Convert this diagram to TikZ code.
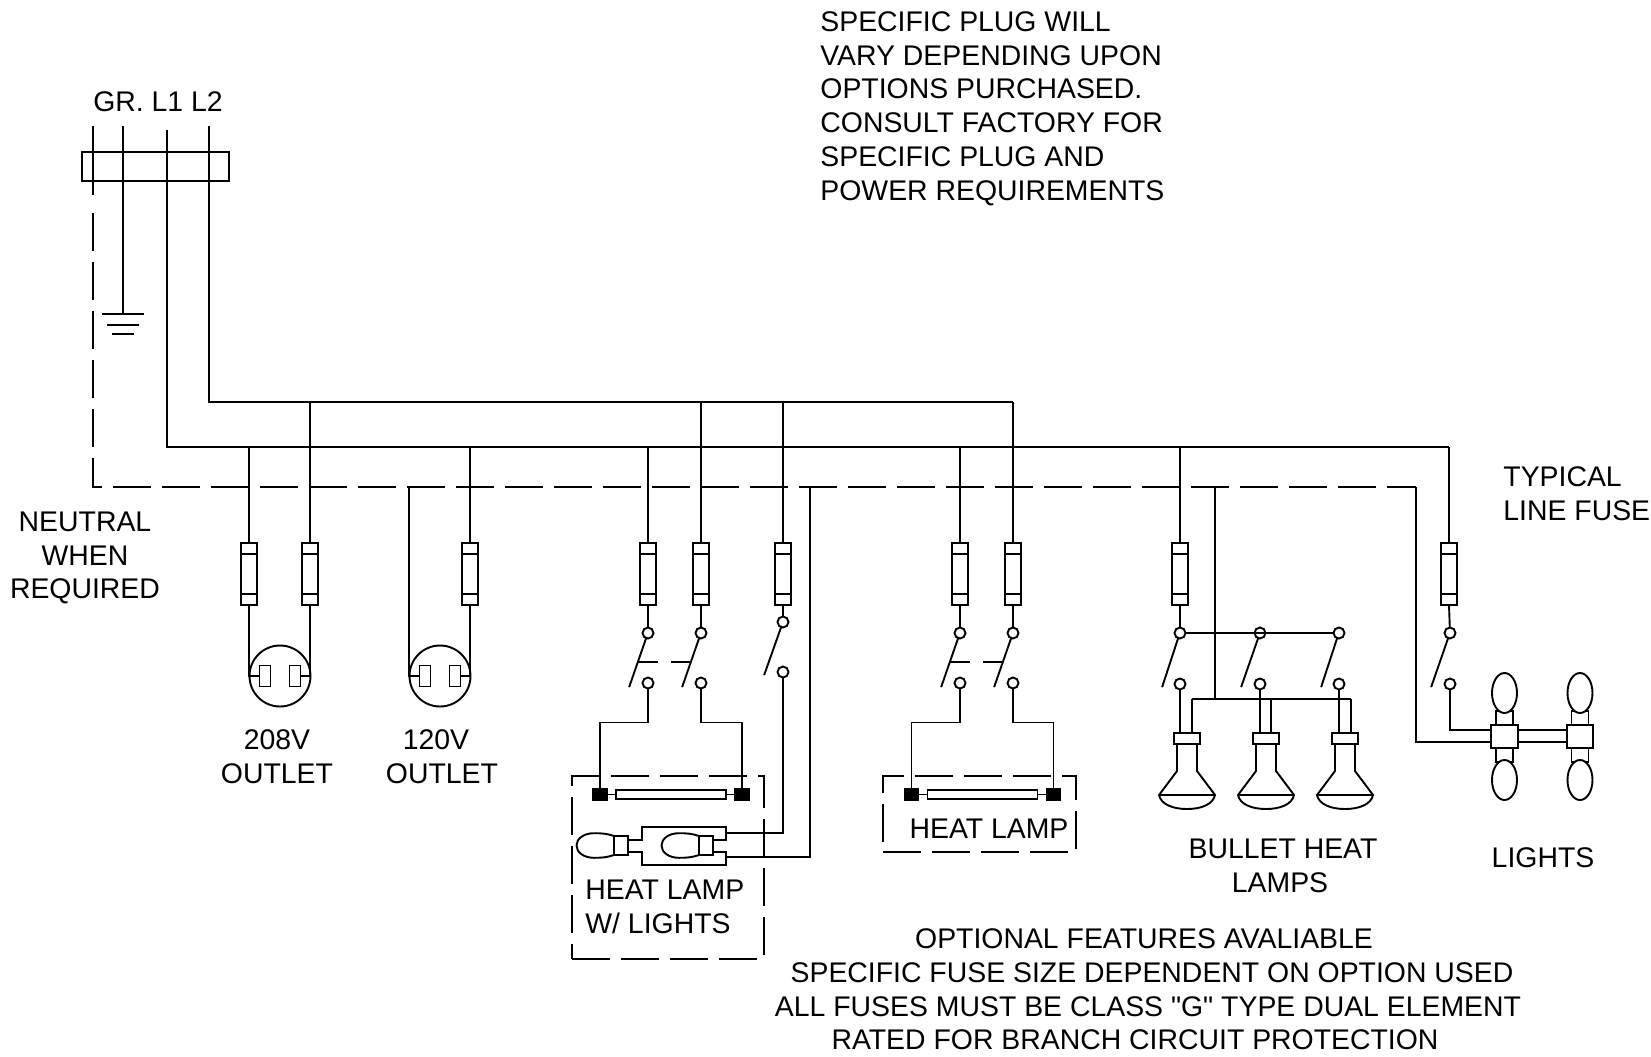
\documentclass[tikz,border=0pt]{standalone}
\usepackage{fontspec}
\setmainfont{Liberation Sans}[Ligatures=TeXOff]
\usetikzlibrary{positioning,calc,shapes.geometric}

\begin{document}
\begin{tikzpicture}[x=0.5pt,y=-0.5pt]
\tikzset{myFont/.style={font=\fontsize{14.2}{16.9}\selectfont,inner sep=0pt,align=center}}
\tikzset{myLeft/.style={myFont,align=left}}
\tikzset{myLine/.style={line width=.95pt}}
\tikzset{myWire/.style={draw,myLine}}
\tikzset{myBox/.style={draw,myLine,inner sep=0pt,outer sep=0pt,fill=white}}
\tikzset{myFuse/.style={myBox,minimum width=8pt,minimum height=31pt,path picture={
  \draw[myLine] ([yshift=-5.5pt]path picture bounding box.north west) -- ([yshift=-5.5pt]path picture bounding box.north east);
  \draw[myLine] ([yshift=5.5pt]path picture bounding box.south west) -- ([yshift=5.5pt]path picture bounding box.south east);}}}
\tikzset{mySwitch/.style={myBox,circle,minimum size=5.5pt}}
\tikzset{myPin/.style={myBox,minimum width=5.5pt,minimum height=10.5pt}}
\tikzset{myOutlet/.style={myBox,circle,minimum size=30.5pt}}
\tikzset{myTerm/.style={myBox,fill=black,minimum width=7pt,minimum height=5.5pt}}
\tikzset{myTube/.style={myBox,minimum width=55pt,minimum height=4.5pt}}
\tikzset{myDash/.style={myLine,dash pattern=on 19pt off 5.5pt}}
\tikzset{myGlobe/.style={myBox,ellipse,minimum width=12.5pt,minimum height=20pt}}
\tikzset{myEgg/.pic={\draw[myLine] (0,-9.5) .. controls (-7,-12) and (-13,-12.3) .. (-20,-12.3) .. controls (-30,-12.3) and (-37.5,-7) .. (-37.5,0) .. controls (-37.5,7) and (-30,12.3) .. (-20,12.3) .. controls (-13,12.3) and (-7,12) .. (0,9.5);}}
\tikzset{myFlood/.pic={
  \node[myBox,minimum width=13pt,minimum height=5.5pt] (-sock) at (0,0) {};
  \draw[myLine] (-10,5.5) -- (-10,32.5) -- (-28,56.5) .. controls (-26,66) and (-14,70.5) .. (0,70.5) .. controls (14,70.5) and (26,66) .. (28,56.5) -- (10,32.5) -- (10,5.5);
  \draw[myLine] (-28,56.5) -- (28,56.5);}}

\useasboundingbox (0,0) rectangle (1651,1056);

\node[myLeft,anchor=north west] (noteTop) at (820,11) {SPECIFIC PLUG WILL\\VARY DEPENDING UPON\\OPTIONS PURCHASED.\\CONSULT FACTORY FOR\\SPECIFIC PLUG AND\\POWER REQUIREMENTS};
\node[myFont] (lbLines) at (158,102) {GR. L1 L2};
\node[myFont] (lbNeutral) at (85,558) {NEUTRAL\\WHEN\\REQUIRED};
\node[myLeft,anchor=west] (lbFuse) at (1503,494) {TYPICAL\\LINE FUSE};
\node[myFont] (lbOutA) at (277,757) {208V\\OUTLET};
\node[myFont] (lbOutB) at (442,757) {\hspace*{-6pt}120V\\OUTLET};
\node[myLeft,anchor=west] (lbLampA) at (585,907) {HEAT LAMP\\W/ LIGHTS};
\node[myFont] (lbLampB) at (989,829) {HEAT LAMP};
\node[myFont] (lbBullet) at (1283,866) {BULLET HEAT\\\hspace*{-3pt}LAMPS};
\node[myFont] (lbLights) at (1543,858) {LIGHTS};
\node[myFont] (optA) at (1144,939) {OPTIONAL FEATURES AVALIABLE};
\node[myFont] (optB) at (1152,973) {SPECIFIC FUSE SIZE DEPENDENT ON OPTION USED};
\node[myFont] (optC) at (1148,1007) {ALL FUSES MUST BE CLASS "G" TYPE DUAL ELEMENT};
\node[myFont] (optD) at (1135,1040) {RATED FOR BRANCH CIRCUIT PROTECTION};

\coordinate (topN) at (93,126);
\coordinate (topG) at (123,126);
\coordinate (topA) at (167,130);
\coordinate (topB) at (209,126);
\coordinate (busB) at (1013,402);
\coordinate (busA) at (1449,447);
\coordinate (busN) at (1416,487);
\coordinate (gnd) at (123,314);

\node[draw,myLine,inner sep=0pt,minimum width=73.5pt,minimum height=14.5pt] (strip) at (155.5,166.5) {};
\draw[myWire] (topN) -- ++(0,69) coordinate (endN);
\draw[myWire] (topG) -- (gnd);
\draw[myWire] (topA) |- (busA);
\draw[myWire] (topB) |- (busB);
\draw[myDash] ($(endN)+(0,18)$) |- (busN);
\draw[myWire] ([xshift=-10.5pt]gnd) -- ([xshift=10.5pt]gnd);
\draw[myWire] ([shift={(-8pt,-5.5pt)}]gnd) -- ([shift={(8pt,-5.5pt)}]gnd);
\draw[myWire] ([shift={(-5.5pt,-10pt)}]gnd) -- ([shift={(5.5pt,-10pt)}]gnd);

\node[myFuse] (fA) at (249,574) {};
\node[myFuse] (fB) at (310,574) {};
\node[myFuse] (fC) at (470,574) {};
\node[myFuse] (fD) at (648,574) {};
\node[myFuse] (fE) at (701,574) {};
\node[myFuse] (fF) at (783,574) {};
\node[myFuse] (fG) at (960,574) {};
\node[myFuse] (fH) at (1013,574) {};
\node[myFuse] (fI) at (1180,574) {};
\node[myFuse] (fJ) at (1449,574) {};
\draw[myWire] (fA.north) -- (fA.north |- busA);
\draw[myWire] (fB.north) -- (fB.north |- busB);
\draw[myWire] (fC.north) -- (fC.north |- busA);
\draw[myWire] (fD.north) -- (fD.north |- busA);
\draw[myWire] (fE.north) -- (fE.north |- busB);
\draw[myWire] (fF.north) -- (fF.north |- busB);
\draw[myWire] (fG.north) -- (fG.north |- busA);
\draw[myWire] (fH.north) -- (fH.north |- busB);
\draw[myWire] (fI.north) -- (fI.north |- busA);
\draw[myWire] (fJ.north) -- (fJ.north |- busA);

\node[myOutlet] (outA) at (280,676) {};
\node[myPin,left=4.75pt of outA.center] (pnA) {};
\node[myPin,right=4.75pt of outA.center] (pnB) {};
\node[myOutlet] (outB) at (440,676) {};
\node[myPin,left=4.75pt of outB.center] (pnC) {};
\node[myPin,right=4.75pt of outB.center] (pnD) {};
\coordinate (neuB) at (409,487);
\draw[myWire] (fA.south) |- (pnA.west);
\draw[myWire] (fB.south) |- (pnB.east);
\draw[myWire] (neuB) |- (pnC.west);
\draw[myWire] (fC.south) |- (pnD.east);

\node[mySwitch] (swDt) at (648,633) {};
\node[mySwitch] (swDb) at (648,683) {};
\node[mySwitch] (swEt) at (701,633) {};
\node[mySwitch] (swEb) at (701,683) {};
\node[mySwitch] (swFt) at (783,622) {};
\node[mySwitch] (swFb) at (783,672) {};
\node[mySwitch] (swGt) at (960,633) {};
\node[mySwitch] (swGb) at (960,683) {};
\node[mySwitch] (swHt) at (1013,633) {};
\node[mySwitch] (swHb) at (1013,683) {};
\node[mySwitch] (swIt) at (1180,633) {};
\node[mySwitch] (swIb) at (1180,684) {};
\node[mySwitch] (swKt) at (1260,633) {};
\node[mySwitch] (swKb) at (1260,684) {};
\node[mySwitch] (swLt) at (1339,633) {};
\node[mySwitch] (swLb) at (1339,684) {};
\node[mySwitch] (swJt) at (1450,633) {};
\node[mySwitch] (swJb) at (1450,684) {};
\draw[myWire] (fD.south) -- (swDt);
\draw[myWire] (fE.south) -- (swEt);
\draw[myWire] (fF.south) -- (swFt);
\draw[myWire] (fG.south) -- (swGt);
\draw[myWire] (fH.south) -- (swHt);
\draw[myWire] (fI.south) -- (swIt);
\draw[myWire] (fJ.south) -- (swJt);
\draw[myWire] (swDt.250) -- coordinate[pos=.49] (lkD) ++(-17,49);
\draw[myWire] (swEt.250) -- coordinate[pos=.49] (lkE) ++(-17,49);
\draw[myWire] (swFt.250) -- ++(-17,48);
\draw[myWire] (swGt.250) -- coordinate[pos=.49] (lkG) ++(-17,49);
\draw[myWire] (swHt.250) -- coordinate[pos=.49] (lkH) ++(-17,49);
\draw[myWire] (swIt.250) -- ++(-16,49);
\draw[myWire] (swKt.250) -- ++(-17,49);
\draw[myWire] (swLt.250) -- ++(-16,49);
\draw[myWire] (swJt.250) -- ++(-17,49);
\draw[myWire] (lkD) -- ++(20,0);
\draw[myWire] (lkE) -- ++(-20,0);
\draw[myWire] (lkG) -- ++(20,0);
\draw[myWire] (lkH) -- ++(-20,0);
\draw[myWire] (swIt) -- (swLt);

\node[draw,myDash,inner sep=0pt,minimum width=96pt,minimum height=91.5pt] (boxA) at (668,867.5) {};
\node[myTube] (tbA) at (671,794.5) {};
\node[myTerm,left=4.5pt of tbA] (tmA) {};
\node[myTerm,right=4.5pt of tbA] (tmB) {};
\draw[myWire] (tmA) -- (tbA);
\draw[myWire] (tbA) -- (tmB);
\draw[myWire] (swDb.south) -- ++(0,34) -| (tmA.north);
\draw[myWire] (swEb.south) -- ++(0,34) -| (tmB.north);

\node[myBox,minimum width=7pt,minimum height=9.5pt] (lsA) at (621,845.5) {};
\node[myBox,minimum width=7pt,minimum height=9.5pt] (lsB) at (706,845.5) {};
\pic at (lsA.west) {myEgg};
\pic at (lsB.west) {myEgg};
\draw[myWire] ([yshift=2.75pt]lsA.east) -- ++(14,0) -- ++(0,-13) -- ++(84,0) -- ++(0,13) -- ([yshift=2.75pt]lsB.east);
\draw[myWire] ([yshift=-3.25pt]lsA.east) -- ++(14,0) -- ++(0,13) -- ++(84,0) -- ++(0,-13) -- ([yshift=-3.25pt]lsB.east);
\coordinate (lwA) at (726,833);
\coordinate (lwB) at (726,857);
\coordinate (neuC) at (810,487);
\draw[myWire] (swFb.south) |- (lwA);
\draw[myWire] (neuC) |- (lwB);

\node[draw,myDash,inner sep=0pt,minimum width=96.5pt,minimum height=38pt] (boxB) at (979.5,814) {};
\node[myTube] (tbB) at (982.5,794.5) {};
\node[myTerm,left=4.5pt of tbB] (tmC) {};
\node[myTerm,right=4.5pt of tbB] (tmD) {};
\draw[myWire] (tmC) -- (tbB);
\draw[myWire] (tbB) -- (tmD);
\draw[myWire] (swGb.south) -- ++(0,34) -| (tmC.north);
\draw[myWire] (swHb.south) -- ++(0,34) -| (tmD.north);

\pic (flA) at (1187,738.5) {myFlood};
\pic (flB) at (1266,738.5) {myFlood};
\pic (flC) at (1345,738.5) {myFlood};
\coordinate (neuD) at (1215,487);
\coordinate (neuE) at (1215,699);
\draw[myWire] (neuD) -- (neuE);
\draw[myWire] ([xshift=2.5pt]flA-sock.north |- neuE) -- ([xshift=3pt]flC-sock.north |- neuE);
\draw[myWire] ([xshift=2.5pt]flA-sock.north) -- ++(0,-34);
\draw[myWire] ([xshift=2.5pt]flB-sock.north) -- ++(0,-34);
\draw[myWire] ([xshift=3pt]flC-sock.north) -- ++(0,-34);
\draw[myWire] (swIb.south) -- (swIb.south |- flA-sock.north);
\draw[myWire] (swKb.south) -- (swKb.south |- flB-sock.north);
\draw[myWire] (swLb.south) -- (swLb.south |- flC-sock.north);

\node[myBox,minimum width=13.5pt,minimum height=11.5pt] (ltA) at (1504.5,736.5) {};
\node[myBox,minimum width=13pt,minimum height=11.5pt] (ltB) at (1580,736.5) {};
\node[myBox,minimum width=8.5pt,minimum height=7pt,above=0pt of ltA] (skA) {};
\node[myBox,minimum width=8.5pt,minimum height=7pt,below=0pt of ltA] (skB) {};
\node[myBox,minimum width=8.5pt,minimum height=7pt,above=0pt of ltB] (skC) {};
\node[myBox,minimum width=8.5pt,minimum height=7pt,below=0pt of ltB] (skD) {};
\node[myGlobe,above=-1pt of skA] (glA) {};
\node[myGlobe,below=-1pt of skB] (glB) {};
\node[myGlobe,above=-1pt of skC] (glC) {};
\node[myGlobe,below=-1pt of skD] (glD) {};
\draw[myWire] (swJb.south) |- ([yshift=3.25pt]ltA.west);
\draw[myWire] (busN) |- ([yshift=-2.75pt]ltA.west);
\draw[myWire] ([yshift=3.25pt]ltA.east) -- ([yshift=3.25pt]ltA.east -| ltB.west);
\draw[myWire] ([yshift=-2.75pt]ltA.east) -- ([yshift=-2.75pt]ltA.east -| ltB.west);
\end{tikzpicture}
\end{document}
